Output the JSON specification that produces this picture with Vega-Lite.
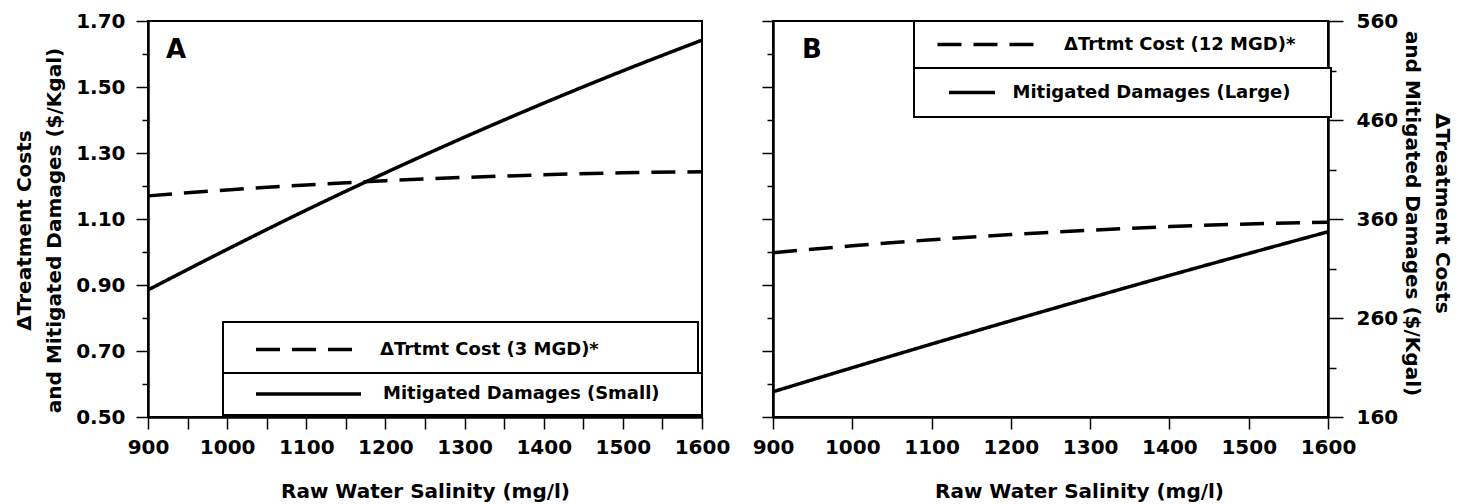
{
  "$schema": "https://vega.github.io/schema/vega-lite/v6.json",
  "background": "white",
  "padding": {"left": 13, "top": 10, "right": 3, "bottom": 0},
  "datasets": {
    "curves": [
      {"panel": "A", "series": "ΔTrtmt Cost (3 MGD)*", "salinity": 900, "value": 1.170},
      {"panel": "A", "series": "ΔTrtmt Cost (3 MGD)*", "salinity": 1000, "value": 1.188},
      {"panel": "A", "series": "ΔTrtmt Cost (3 MGD)*", "salinity": 1100, "value": 1.203},
      {"panel": "A", "series": "ΔTrtmt Cost (3 MGD)*", "salinity": 1200, "value": 1.216},
      {"panel": "A", "series": "ΔTrtmt Cost (3 MGD)*", "salinity": 1300, "value": 1.226},
      {"panel": "A", "series": "ΔTrtmt Cost (3 MGD)*", "salinity": 1400, "value": 1.234},
      {"panel": "A", "series": "ΔTrtmt Cost (3 MGD)*", "salinity": 1500, "value": 1.240},
      {"panel": "A", "series": "ΔTrtmt Cost (3 MGD)*", "salinity": 1600, "value": 1.243},
      {"panel": "A", "series": "Mitigated Damages (Small)", "salinity": 900, "value": 0.885},
      {"panel": "A", "series": "Mitigated Damages (Small)", "salinity": 1000, "value": 1.008},
      {"panel": "A", "series": "Mitigated Damages (Small)", "salinity": 1100, "value": 1.127},
      {"panel": "A", "series": "Mitigated Damages (Small)", "salinity": 1200, "value": 1.240},
      {"panel": "A", "series": "Mitigated Damages (Small)", "salinity": 1300, "value": 1.348},
      {"panel": "A", "series": "Mitigated Damages (Small)", "salinity": 1400, "value": 1.451},
      {"panel": "A", "series": "Mitigated Damages (Small)", "salinity": 1500, "value": 1.549},
      {"panel": "A", "series": "Mitigated Damages (Small)", "salinity": 1600, "value": 1.642},
      {"panel": "B", "series": "ΔTrtmt Cost (12 MGD)*", "salinity": 900, "value": 325.9},
      {"panel": "B", "series": "ΔTrtmt Cost (12 MGD)*", "salinity": 1000, "value": 332.9},
      {"panel": "B", "series": "ΔTrtmt Cost (12 MGD)*", "salinity": 1100, "value": 339.0},
      {"panel": "B", "series": "ΔTrtmt Cost (12 MGD)*", "salinity": 1200, "value": 344.3},
      {"panel": "B", "series": "ΔTrtmt Cost (12 MGD)*", "salinity": 1300, "value": 348.7},
      {"panel": "B", "series": "ΔTrtmt Cost (12 MGD)*", "salinity": 1400, "value": 352.3},
      {"panel": "B", "series": "ΔTrtmt Cost (12 MGD)*", "salinity": 1500, "value": 355.0},
      {"panel": "B", "series": "ΔTrtmt Cost (12 MGD)*", "salinity": 1600, "value": 356.8},
      {"panel": "B", "series": "Mitigated Damages (Large)", "salinity": 900, "value": 185.5},
      {"panel": "B", "series": "Mitigated Damages (Large)", "salinity": 1000, "value": 209.8},
      {"panel": "B", "series": "Mitigated Damages (Large)", "salinity": 1100, "value": 233.7},
      {"panel": "B", "series": "Mitigated Damages (Large)", "salinity": 1200, "value": 257.2},
      {"panel": "B", "series": "Mitigated Damages (Large)", "salinity": 1300, "value": 280.3},
      {"panel": "B", "series": "Mitigated Damages (Large)", "salinity": 1400, "value": 303.0},
      {"panel": "B", "series": "Mitigated Damages (Large)", "salinity": 1500, "value": 325.2},
      {"panel": "B", "series": "Mitigated Damages (Large)", "salinity": 1600, "value": 347.1}
    ]
  },
  "config": {
    "font": "DejaVu Sans",
    "view": {"stroke": "black", "strokeWidth": 2},
    "axis": {
      "grid": false,
      "labelFont": "DejaVu Sans", "labelFontWeight": "bold", "labelFontSize": 20, "labelColor": "black",
      "titleFont": "DejaVu Sans", "titleFontWeight": "bold", "titleFontSize": 20, "titleColor": "black",
      "domainColor": "black", "domainWidth": 2.5, "tickColor": "black", "tickWidth": 1.5,
      "labelFlush": false, "labelOverlap": false
    },
    "legend": {
      "labelFont": "DejaVu Sans", "labelFontWeight": "bold", "labelFontSize": 18, "labelColor": "black",
      "labelLimit": 600, "strokeColor": "black", "strokeWidth": 2, "fillColor": "white",
      "symbolType": "stroke", "symbolStrokeWidth": 3.5, "symbolStrokeColor": "black"
    },
    "title": {"font": "DejaVu Sans", "fontWeight": "bold", "fontSize": 26, "color": "black"}
  },
  "spacing": 20,
  "resolve": {"scale": {"strokeDash": "independent"}},
  "hconcat": [
    {
      "width": 554,
      "height": 396,
      "title": {"text": "A", "anchor": "start", "frame": "group", "dx": 18, "dy": 52, "offset": 0},
      "data": {"name": "curves"},
      "transform": [{"filter": "datum.panel == 'A'"}],
      "encoding": {
        "x": {
          "field": "salinity", "type": "quantitative",
          "scale": {"domain": [900, 1600], "nice": false, "zero": false},
          "axis": {
            "title": "Raw Water Salinity (mg/l)",
            "values": [900, 950, 1000, 1050, 1100, 1150, 1200, 1250, 1300, 1350, 1400, 1450, 1500, 1550, 1600],
            "format": "d",
            "labelExpr": "datum.value % 100 == 0 ? datum.label : ''",
            "tickSize": 12, "labelPadding": 8, "titlePadding": 24
          }
        },
        "y": {
          "field": "value", "type": "quantitative",
          "scale": {"domain": [0.5, 1.7], "nice": false, "zero": false},
          "axis": {
            "title": ["ΔTreatment Costs", "and Mitigated Damages ($/Kgal)"],
            "values": [0.5, 0.6, 0.7, 0.8, 0.9, 1.0, 1.1, 1.2, 1.3, 1.4, 1.5, 1.6, 1.7],
            "format": ".2f",
            "labelExpr": "round(datum.value * 10) % 2 == 1 ? datum.label : ''",
            "tickSize": {"condition": {"test": "round(datum.value * 10) % 2 == 1", "value": 12}, "value": 6},
            "labelPadding": 11, "titlePadding": 11, "titleLineHeight": 30, "titleY": 209
          }
        }
      },
      "layer": [
        {
          "transform": [{"filter": "datum.series == 'ΔTrtmt Cost (3 MGD)*'"}],
          "mark": {"type": "line", "color": "black", "strokeWidth": 3.5, "interpolate": "monotone"},
          "encoding": {
            "strokeDash": {
              "field": "series", "type": "nominal",
              "scale": {"range": [[24, 12]]},
              "legend": {
                "title": null, "orient": "none", "legendX": 75, "legendY": 301,
                "symbolSize": 9216, "padding": 17.5, "clipHeight": 20,
                "symbolOffset": 13.5, "labelOffset": 26,
                "labelExpr": "datum.label + '\u00a0\u00a0\u00a0\u00a0\u00a0\u00a0\u00a0\u00a0\u00a0\u00a0\u00a0\u00a0\u00a0\u200b'"
              }
            }
          }
        },
        {
          "transform": [{"filter": "datum.series == 'Mitigated Damages (Small)'"}],
          "mark": {"type": "line", "color": "black", "strokeWidth": 3.5, "interpolate": "monotone"},
          "encoding": {
            "strokeDash": {
              "field": "series", "type": "nominal",
              "scale": {"range": [[1, 0]]},
              "legend": {
                "title": null, "orient": "none", "legendX": 75, "legendY": 352,
                "symbolSize": 11025, "padding": 11, "clipHeight": 20,
                "symbolOffset": 20, "labelOffset": 20,
                "labelExpr": "datum.label + '\u00a0\u00a0\u00a0\u00a0\u00a0\u200b'"
              }
            }
          }
        }
      ],
      "resolve": {"scale": {"strokeDash": "independent"}}
    },
    {
      "width": 555,
      "height": 396,
      "title": {"text": "B", "anchor": "start", "frame": "group", "dx": 29, "dy": 52, "offset": 0},
      "data": {"name": "curves"},
      "transform": [{"filter": "datum.panel == 'B'"}],
      "layer": [
        {
          "transform": [{"filter": "datum.series == 'ΔTrtmt Cost (12 MGD)*'"}],
          "mark": {"type": "line", "color": "black", "strokeWidth": 3.5, "interpolate": "monotone"},
          "encoding": {
            "x": {
              "field": "salinity", "type": "quantitative",
              "scale": {"domain": [900, 1600], "nice": false, "zero": false},
              "axis": {
                "title": "Raw Water Salinity (mg/l)",
                "values": [900, 950, 1000, 1050, 1100, 1150, 1200, 1250, 1300, 1350, 1400, 1450, 1500, 1550, 1600],
                "format": "d",
                "labelExpr": "datum.value % 100 == 0 ? datum.label : ''",
                "tickSize": 12, "labelPadding": 8, "titlePadding": 24, "titleX": 306
              }
            },
            "y": {
              "field": "value", "type": "quantitative",
              "scale": {"domain": [160, 560], "nice": false, "zero": false},
              "axis": {
                "orient": "right",
                "title": ["ΔTreatment Costs", "and Mitigated Damages ($/Kgal)"],
                "titleAngle": 90,
                "values": [160, 210, 260, 310, 360, 410, 460, 510, 560],
                "format": "d",
                "labelExpr": "(datum.value - 160) % 100 == 0 ? datum.label : ''",
                "tickSize": {"condition": {"test": "(datum.value - 160) % 100 == 0", "value": 15}, "value": 8},
                "labelPadding": 13, "titlePadding": 4, "titleLineHeight": 30, "titleY": 192
              }
            },
            "strokeDash": {
              "field": "series", "type": "nominal",
              "scale": {"range": [[24, 12]]},
              "legend": {
                "title": null, "orient": "none", "legendX": 141, "legendY": 0,
                "symbolSize": 9801, "padding": 13.5, "clipHeight": 20,
                "symbolOffset": 8, "labelOffset": 25.5,
                "labelExpr": "datum.label + '\u00a0\u00a0\u00a0\u200b'"
              }
            }
          }
        },
        {
          "transform": [{"filter": "datum.series == 'Mitigated Damages (Large)'"}],
          "mark": {"type": "line", "color": "black", "strokeWidth": 3.5, "interpolate": "monotone"},
          "encoding": {
            "x": {"field": "salinity", "type": "quantitative"},
            "y": {
              "field": "value", "type": "quantitative",
              "axis": {
                "orient": "left", "title": null, "labels": false,
                "values": [160, 193.333, 226.667, 260, 293.333, 326.667, 360, 393.333, 426.667, 460, 493.333, 526.667, 560],
                "tickSize": {"condition": {"test": "abs((datum.value - 160) / 66.6667 - round((datum.value - 160) / 66.6667)) < 0.01", "value": 11}, "value": 6}
              }
            },
            "strokeDash": {
              "field": "series", "type": "nominal",
              "scale": {"range": [[1, 0]]},
              "legend": {
                "title": null, "orient": "none", "legendX": 141, "legendY": 47,
                "symbolSize": 2116, "padding": 14.5, "clipHeight": 20,
                "symbolOffset": 18.5, "labelOffset": 15.5,
                "labelExpr": "datum.label + '\u00a0\u00a0\u00a0\u00a0\u200b'"
              }
            }
          }
        }
      ],
      "resolve": {"scale": {"strokeDash": "independent"}, "axis": {"y": "independent"}}
    }
  ]
}
